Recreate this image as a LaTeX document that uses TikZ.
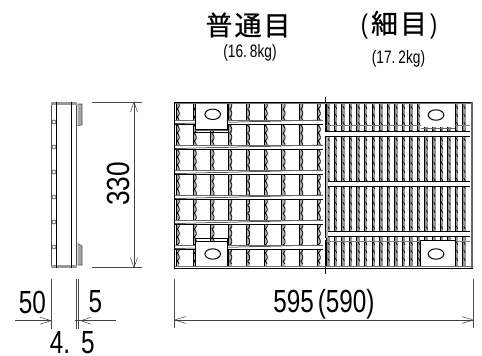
\documentclass[tikz,border=0pt]{standalone}
\usepackage{graphicx}
\usepackage{fontspec}
\setmainfont{Liberation Sans}
\newfontfamily\cjk[FakeBold=0.6]{Noto Sans CJK JP}
\newcommand{\dimtxt}[1]{\scalebox{0.76}[1]{#1}}
\newcommand{\smtxt}[1]{\scalebox{0.76}[1]{#1}}
\tikzset{
  dim/.style={draw=black!75,line width=0.7pt},
  ext/.style={draw=black!70,line width=0.7pt},
  lab/.style={inner sep=0pt,font=\fontsize{32}{32}\selectfont},
  sm/.style={inner sep=0pt,font=\fontsize{18}{18}\selectfont},
  ttl/.style={inner sep=0pt,font=\cjk\fontsize{27}{27}\selectfont},
  gray/.style={draw=black!60,line width=1pt},
  hole/.style={draw=black,line width=1pt,fill=white},
  arrowhead/.style={draw=black!75,line width=0.5pt,fill=none}
}
\begin{document}
\begin{tikzpicture}[x=1pt,y=-1pt]
\useasboundingbox (0,0) rectangle (482,356);
\fill[white] (0,0) rectangle (482,356);
% left-half vertical bars
\foreach \x in {176,193,210.7,228.5,246.3,264,281.8,299.5,317}{
  \fill[black!32] (\x,104) rectangle (\x+3.2,267);
  \draw[black,line width=0.7pt] (\x,104) -- (\x,267);
  \foreach \y in {104,112,...,260}{
    \draw[black,line width=0.7pt] (\x+3.2,\y) -- ++(0,3) -- ++(-2,2) -- ++(2,3);
  }
}
% right-half vertical bars
\foreach \x in {328.3,335.9,343.4,351,358.6,366.1,373.7,381.3,388.8,396.4,404,411.5,419,426.6,434.2,441.8,449.3,456.9,464.4}{
  \fill[black!42] (\x-1.6,104) rectangle (\x+1.3,267);
  \draw[black,line width=0.7pt] (\x-1.8,104) -- (\x-1.8,267);
  \foreach \y in {106,114,...,260}{
    \draw[black,line width=0.6pt] (\x-.6,\y) -- ++(1.6,3);
  }
}
% left-half horizontal bars
\foreach \y in {122,147,172,197,222,247}{
  \fill[white] (175,\y-2) rectangle (323,\y+2);
  \draw[black,line width=0.7pt] (175,\y+2) -- (323,\y+2);
  \draw[black,line width=0.5pt] (175,\y+1.5) -- (323,\y-2);
  \draw[black!60,line width=0.5pt] (175,\y-2) -- (323,\y-2);
}
% right-half horizontal bars
\foreach \y in {134,184,234}{
  \fill[white] (325,\y-2) rectangle (470,\y+2);
  \draw[black,line width=0.7pt] (325,\y-2.2) -- (470,\y-2.2);
  \draw[black,line width=0.7pt] (325,\y+2.2) -- (470,\y+2.2);
}
\draw[black!50,line width=1pt] (325,125.7) -- (470,125.7);
\draw[black!50,line width=1pt] (325,241.7) -- (470,241.7);
% centre divider
\fill[black!30] (325,137) rectangle (328,238);
\draw[black,line width=0.7pt] (325,137) -- (325,238);
\draw[black,line width=0.7pt] (325,97) -- (325,132);
\draw[black,line width=0.7pt] (325,240) -- (325,274);
% plates
\fill[white] (195,104) rectangle (227.5,129);
\draw[black,line width=.6pt] (195,104) -- (195,129) (227.5,104) -- (227.5,129) (195,129) -- (227.5,129);
\draw[gray] (195,130.7) -- (227.5,130.7);
\draw[black,line width=.6pt] (195,132) -- (227.5,132);
\fill[white] (195,241) rectangle (227.5,267);
\draw[black,line width=.6pt] (195,267) -- (195,238.5) -- (227.5,238.5) -- (227.5,267) (195,241) -- (227.5,241);
\fill[white] (420.7,104) rectangle (455,127);
\draw[gray] (420.7,128.5) -- (455,128.5);
\fill[white] (420.7,240) rectangle (455,266);
\draw[black,line width=.8pt] (420.7,266) -- (420.7,240) -- (455,240) -- (455,266);
\draw[hole] (212.7,114.3) ellipse [x radius=7.8,y radius=5.2];
\draw[hole] (212.7,254) ellipse [x radius=7.8,y radius=5.2];
\draw[hole] (436,115) ellipse [x radius=7.8,y radius=5.2];
\draw[hole] (436,254) ellipse [x radius=7.8,y radius=5.2];
% frame
\draw[line width=1.2pt,draw=black!55] (174,103) -- (473,103);
\draw[black,line width=0.6pt] (174,101.8) -- (473,101.8);
\draw[line width=1.2pt,draw=black!55] (174,266.5) -- (473,266.5);
\draw[black,line width=0.6pt] (174,267.8) -- (473,267.8);
\draw[black,line width=0.7pt] (174.3,101.8) -- (174.3,267.8);
\draw[black!60,line width=1.4pt] (472,101.8) -- (472,267.8);
% side view
\draw[black!70,line width=0.8pt] (51,102) rectangle (76.7,267.5);
\fill[black!40] (51,102) rectangle (76.7,104.8);
\fill[black!40] (51,265) rectangle (76.7,267.5);
\draw[black,line width=0.6pt] (56.7,102) -- (56.7,267.5);
\draw[black,line width=0.6pt] (71.7,102) -- (71.7,267.5);
\filldraw[fill=black!35,draw=black!70,line width=0.6pt] (77.7,104) -- (82,104) -- (82,125) -- (77.7,125.5);
\filldraw[fill=black!35,draw=black!70,line width=0.6pt] (77.7,243.5) -- (82,246) -- (82,265) -- (77.7,265);
\foreach \y in {122,147,172,197,222,247}{
  \draw[black!75,fill=white,line width=0.6pt] (54,\y) circle (2);
}
% 330 dimension
\draw[ext] (92,102) -- (141.7,102);
\draw[ext] (92,267.5) -- (141.7,267.5);
\draw[dim] (134,102) -- (134,267.5);
\draw[arrowhead] (130.5,112) -- (134,102) -- (137.5,112);
\draw[arrowhead] (130.5,257.5) -- (134,267.5) -- (137.5,257.5);
\node[lab,rotate=90] at (118.7,184) {\scalebox{0.82}[1]{330}};
% lower dimensions
\draw[ext] (51,279) -- (51,328.5);
\draw[ext] (76,279) -- (76,328.5);
\draw[ext] (78,279) -- (78,328.5);
\draw[dim] (15,320.7) -- (51,320.7);
\draw[arrowhead] (40,317.2) -- (51,320.7) -- (40,324.2);
\draw[dim] (75,320.7) -- (115.7,320.7);
\draw[arrowhead] (91,317.2) -- (81,320.7) -- (91,324.2);
\node[lab] at (32.5,302) {\dimtxt{50}};
\node[lab] at (95.5,302) {\dimtxt{5}};
\node[lab] at (60,342.5) {\dimtxt{4.}};
\node[lab] at (88,342.5) {\dimtxt{5}};
% 595 dimension
\draw[ext] (174.5,279) -- (174.5,328);
\draw[ext] (473,279) -- (473,328);
\draw[dim] (174.5,320) -- (473,320);
\draw[arrowhead] (186,316.5) -- (174.5,320) -- (186,323.5);
\draw[arrowhead] (462,316.5) -- (473,320) -- (462,323.5);
\node[lab] at (324,304) {\dimtxt{595\kern5pt(590)}};
% titles
\node[ttl] at (248,25) {普\kern2pt通\kern2pt目};
\node[ttl] at (399,25) {{\rmfamily\scalebox{.8}[1]{(}}\kern3pt 細\kern2pt目\kern3pt{\rmfamily\scalebox{.8}[1]{)}}};
\node[sm] at (250,53) {\smtxt{(16.\kern4pt 8kg)}};
\node[sm] at (398.5,58.5) {\smtxt{(17.\kern4pt 2kg)}};
\end{tikzpicture}
\end{document}
